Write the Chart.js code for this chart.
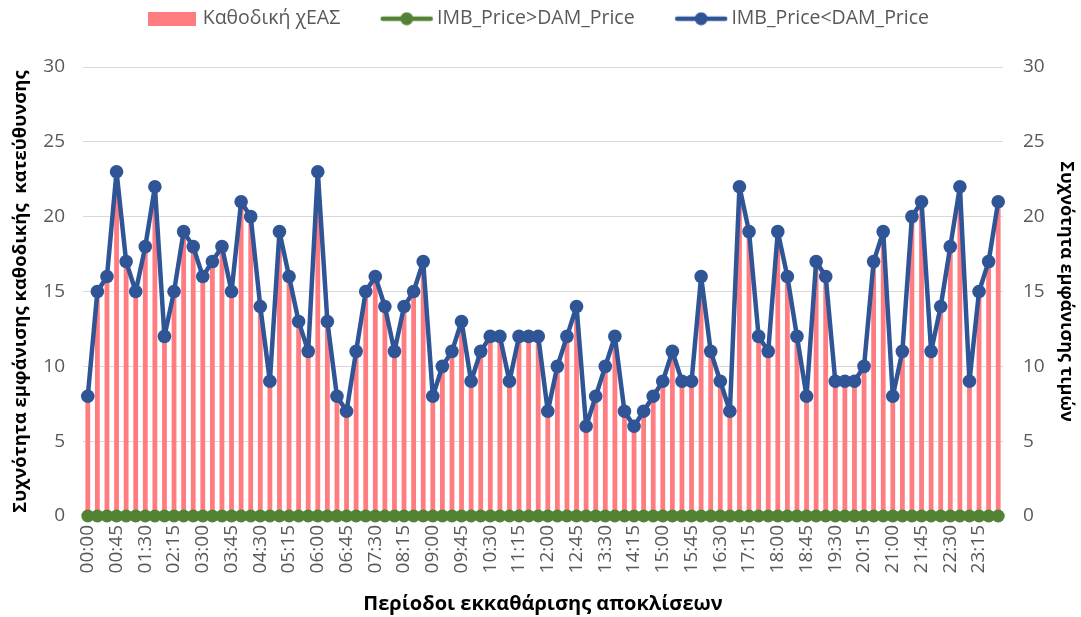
<!DOCTYPE html>
<html><head><meta charset="utf-8">
<script src="https://cdn.jsdelivr.net/npm/chart.js@4.4.1/dist/chart.umd.min.js"></script>
<style>html,body{margin:0;padding:0;background:#fff}#wrap{width:1081px;height:617px}</style>
</head><body><div id="wrap"><canvas id="c" width="1081" height="617"></canvas></div>
<script>
const periods = [
 "00:00","00:15","00:30","00:45","01:00","01:15","01:30","01:45","02:00","02:15","02:30","02:45",
 "03:00","03:15","03:30","03:45","04:00","04:15","04:30","04:45","05:00","05:15","05:30","05:45",
 "06:00","06:15","06:30","06:45","07:00","07:15","07:30","07:45","08:00","08:15","08:30","08:45",
 "09:00","09:15","09:30","09:45","10:00","10:15","10:30","10:45","11:00","11:15","11:30","11:45",
 "12:00","12:15","12:30","12:45","13:00","13:15","13:30","13:45","14:00","14:15","14:30","14:45",
 "15:00","15:15","15:30","15:45","16:00","16:15","16:30","16:45","17:00","17:15","17:30","17:45",
 "18:00","18:15","18:30","18:45","19:00","19:15","19:30","19:45","20:00","20:15","20:30","20:45",
 "21:00","21:15","21:30","21:45","22:00","22:15","22:30","22:45","23:00","23:15","23:30","23:45"
];
const downwardReserve = [
 8,15,16,23,17,15,18,22,12,15,19,18,16,17,18,15,21,20,14,9,19,16,13,11,
 23,13,8,7,11,15,16,14,11,14,15,17,8,10,11,13,9,11,12,12,9,12,12,12,
 7,10,12,14,6,8,10,12,7,6,7,8,9,11,9,9,16,11,9,7,22,19,12,11,
 19,16,12,8,17,16,9,9,9,10,17,19,8,11,20,21,11,14,18,22,9,15,17,21
];
const imbAboveDam = [
 0,0,0,0,0,0,0,0,0,0,0,0,0,0,0,0,0,0,0,0,0,0,0,0,
 0,0,0,0,0,0,0,0,0,0,0,0,0,0,0,0,0,0,0,0,0,0,0,0,
 0,0,0,0,0,0,0,0,0,0,0,0,0,0,0,0,0,0,0,0,0,0,0,0,
 0,0,0,0,0,0,0,0,0,0,0,0,0,0,0,0,0,0,0,0,0,0,0,0
];
const imbBelowDam = [
 8,15,16,23,17,15,18,22,12,15,19,18,16,17,18,15,21,20,14,9,19,16,13,11,
 23,13,8,7,11,15,16,14,11,14,15,17,8,10,11,13,9,11,12,12,9,12,12,12,
 7,10,12,14,6,8,10,12,7,6,7,8,9,11,9,9,16,11,9,7,22,19,12,11,
 19,16,12,8,17,16,9,9,9,10,17,19,8,11,20,21,11,14,18,22,9,15,17,21
];
const seriesNames = ["Καθοδική χΕΑΣ","IMB_Price>DAM_Price","IMB_Price<DAM_Price"];
const leftTitle = "Συχνότητα εμφάνισης καθοδικής  κατεύθυνσης";
const rightTitle = "Συχνότητα εμφάνισης τιμών";
const xTitle = "Περίοδοι εκκαθάρισης αποκλίσεων";

const RED = "#FF7C80", GREEN = "#548235", BLUE = "#2F5597";
const FONT = "'Open Sans', 'Noto Sans', sans-serif";

function barMarker(color){
  const c = document.createElement('canvas'); c.width = 48; c.height = 14;
  const g = c.getContext('2d'); g.fillStyle = color; g.fillRect(0,0,48,14); return c;
}
function lineMarker(color){
  const c = document.createElement('canvas'); c.width = 54; c.height = 14;
  const g = c.getContext('2d'); g.strokeStyle = color; g.lineWidth = 4.5; g.lineCap='round';
  g.beginPath(); g.moveTo(3,7); g.lineTo(51,7); g.stroke();
  g.fillStyle = color; g.beginPath(); g.arc(27,7,6.5,0,Math.PI*2); g.fill(); return c;
}
const markers = [barMarker(RED), lineMarker(GREEN), lineMarker(BLUE)];

const legendGap = {
  id: 'legendGap',
  beforeLayout(chart){
    const lg = chart.legend;
    if (lg && !lg._patched){
      const fit = lg.fit;
      lg.fit = function(){ fit.call(this); this.height += 28.5; };
      lg._patched = true;
    }
  }
};

new Chart(document.getElementById('c'), {
  data: {
    labels: periods,
    datasets: [
      { type:'bar', label: seriesNames[0], data: downwardReserve, backgroundColor: RED,
        barPercentage: 0.5, categoryPercentage: 1, yAxisID: 'y', order: 3 },
      { type:'line', label: seriesNames[1], data: imbAboveDam, borderColor: GREEN, backgroundColor: GREEN,
        borderWidth: 4.5, borderJoinStyle: 'round', pointRadius: 6.5, pointBorderWidth: 0, pointBackgroundColor: GREEN,
        tension: 0, yAxisID: 'y1', order: 2, clip: false },
      { type:'line', label: seriesNames[2], data: imbBelowDam, borderColor: BLUE, backgroundColor: BLUE,
        borderWidth: 4.5, borderJoinStyle: 'round', pointRadius: 6.8, pointBorderWidth: 0, pointBackgroundColor: BLUE,
        tension: 0, yAxisID: 'y1', order: 1, clip: false }
    ]
  },
  options: {
    responsive: false, animation: false, devicePixelRatio: 1,
    layout: { padding: { top: -37, left: 0, right: 0, bottom: 0 } },
    plugins: {
      tooltip: { enabled: false },
      legend: {
        position: 'top',
        labels: {
          usePointStyle: true, pointStyleWidth: 41, boxHeight: 14,
          padding: 46, color: '#595959', font: { family: FONT, size: 19.5 },
          sort: (a,b) => a.datasetIndex - b.datasetIndex,
          generateLabels(chart){
            const items = Chart.defaults.plugins.legend.labels.generateLabels(chart);
            items.forEach(it => { it.pointStyle = markers[it.datasetIndex]; it.fontColor = '#595959'; });
            return items;
          }
        }
      }
    },
    scales: {
      x: {
        offset: true,
        grid: { display: false, drawTicks: false },
        border: { display: false },
        ticks: { autoSkip: false, maxRotation: 90, minRotation: 90, padding: 9, color: '#595959',
          font: { family: FONT, size: 19 },
          callback: (v, i) => (i % 3 === 0 ? periods[i] : '') },
        title: { display: true, text: xTitle, color: '#000', font: { family: FONT, size: 20, weight: 'bold' }, padding: { top: 0, bottom: 1 } },
        afterFit(s){ s.height = 101; }
      },
      y: {
        position: 'left', min: 0, max: 30,
        grid: { color: '#D9D9D9', lineWidth: 1, drawTicks: false },
        border: { display: false },
        ticks: { stepSize: 5, padding: 18, color: '#595959', font: { family: FONT, size: 19 } },
        title: { display: true, text: leftTitle, color: '#000', font: { family: FONT, size: 18.5, weight: 'bold' }, padding: { top: 10, bottom: 0 } },
        afterFit(s){ s.width = 83; }
      },
      y1: {
        position: 'right', min: 0, max: 30,
        grid: { display: false, drawTicks: false },
        border: { display: false },
        ticks: { stepSize: 5, padding: 20, color: '#595959', font: { family: FONT, size: 19 } },
        title: { display: true, text: rightTitle, color: '#000', font: { family: FONT, size: 18, weight: 'bold' }, padding: { top: 4, bottom: 4 } },
        afterFit(s){ s.width = 78; }
      }
    }
  },
  plugins: [legendGap]
});
</script>
</body></html>
